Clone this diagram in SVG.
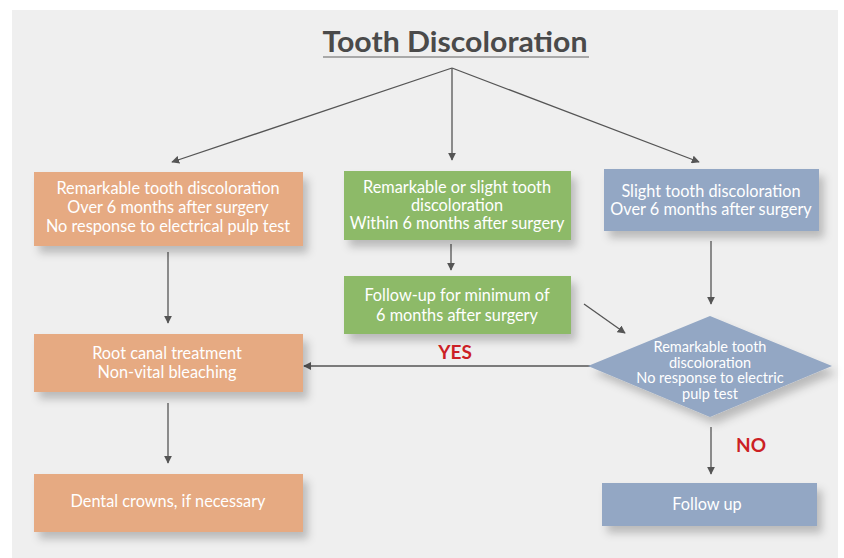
<svg xmlns="http://www.w3.org/2000/svg" width="844" height="558" viewBox="0 0 844 558">
<defs>
<style>
.box text, .lbl{font-family:Lato,"Noto Sans","Liberation Sans",sans-serif;}
.t{fill:#ffffff;font-size:16.3px;text-anchor:middle;}
.td{fill:#ffffff;font-size:14.5px;text-anchor:middle;}
.or{fill:#e6aa82;}
.gr{fill:#8dba68;}
.bl{fill:#93a7c4;}
.c{stroke:#555555;stroke-width:1.3;fill:none;marker-end:url(#ah);}
.red{fill:#cc1f25;font-size:19px;font-weight:bold;text-anchor:middle;font-family:Lato,"Noto Sans","Liberation Sans",sans-serif;}
</style>
<marker id="ah" viewBox="0 0 10 10" refX="9" refY="5" markerWidth="8" markerHeight="8" markerUnits="userSpaceOnUse" orient="auto">
<path d="M0,0 L10,5 L0,10 z" fill="#555555"/>
</marker>
<filter id="sh" x="-10%" y="-20%" width="125%" height="160%">
<feDropShadow dx="5" dy="7" stdDeviation="4" flood-color="#000000" flood-opacity="0.22"/>
</filter>
</defs>
<rect x="0" y="0" width="844" height="558" fill="#ffffff"/>
<rect x="12" y="10" width="826" height="548" fill="#efefef"/>
<g id="title">
<text x="455" y="52" font-family="Lato,'Noto Sans','Liberation Sans',sans-serif" font-weight="bold" font-size="28" fill="#4a4a4a" text-anchor="middle" textLength="265" lengthAdjust="spacingAndGlyphs">Tooth Discoloration</text>
<line x1="323" y1="57" x2="589" y2="57" stroke="#a8a8a8" stroke-width="2"/>
</g>
<g id="connectors">
<line class="c" x1="452" y1="68" x2="172" y2="162"/>
<line class="c" x1="452" y1="68" x2="452" y2="160"/>
<line class="c" x1="452" y1="68" x2="699" y2="162"/>
<line class="c" x1="168" y1="252" x2="168" y2="323"/>
<line class="c" x1="168" y1="403" x2="168" y2="463"/>
<line class="c" x1="451" y1="244" x2="451" y2="270"/>
<line class="c" x1="584" y1="304" x2="625" y2="333"/>
<line class="c" x1="711" y1="241" x2="711" y2="304"/>
<line class="c" x1="590" y1="366" x2="304" y2="366"/>
<line class="c" x1="711" y1="427" x2="711" y2="474"/>
</g>
<g id="n_orange1" class="box">
<rect class="or" x="34" y="172" width="269" height="74" filter="url(#sh)"/>
<text class="t" x="168" y="194">Remarkable tooth discoloration</text>
<text class="t" x="168" y="213">Over 6 months after surgery</text>
<text class="t" x="168" y="232">No response to electrical pulp test</text>
</g>
<g id="n_green1" class="box">
<rect class="gr" x="344" y="171" width="227" height="69" filter="url(#sh)"/>
<text class="t" x="457" y="193">Remarkable or slight tooth</text>
<text class="t" x="457" y="211">discoloration</text>
<text class="t" x="457" y="229">Within 6 months after surgery</text>
</g>
<g id="n_blue1" class="box">
<rect class="bl" x="604" y="169" width="215" height="62" filter="url(#sh)"/>
<text class="t" x="711" y="197">Slight tooth discoloration</text>
<text class="t" x="711" y="215">Over 6 months after surgery</text>
</g>
<g id="n_green2" class="box">
<rect class="gr" x="344" y="276" width="227" height="58" filter="url(#sh)"/>
<text class="t" x="457" y="301">Follow-up for minimum of</text>
<text class="t" x="457" y="321">6 months after surgery</text>
</g>
<g id="n_diamond" class="box">
<polygon class="bl" points="710,316 832,366 710,417 588,366" filter="url(#sh)"/>
<text class="td" x="710" y="352">Remarkable tooth</text>
<text class="td" x="710" y="367.5">discoloration</text>
<text class="td" x="710" y="383">No response to electric</text>
<text class="td" x="710" y="398.5">pulp test</text>
</g>
<g id="n_orange2" class="box">
<rect class="or" x="34" y="334" width="269" height="58" filter="url(#sh)"/>
<text class="t" x="167" y="359">Root canal treatment</text>
<text class="t" x="167" y="378">Non-vital bleaching</text>
</g>
<g id="n_orange3" class="box">
<rect class="or" x="34" y="474" width="269" height="58" filter="url(#sh)"/>
<text class="t" x="168" y="507">Dental crowns, if necessary</text>
</g>
<g id="n_blue2" class="box">
<rect class="bl" x="602" y="483" width="215" height="43" filter="url(#sh)"/>
<text class="t" x="707" y="510">Follow up</text>
</g>
<g id="labels">
<text class="red" x="455" y="359">YES</text>
<text class="red" x="751" y="452">NO</text>
</g>
</svg>
